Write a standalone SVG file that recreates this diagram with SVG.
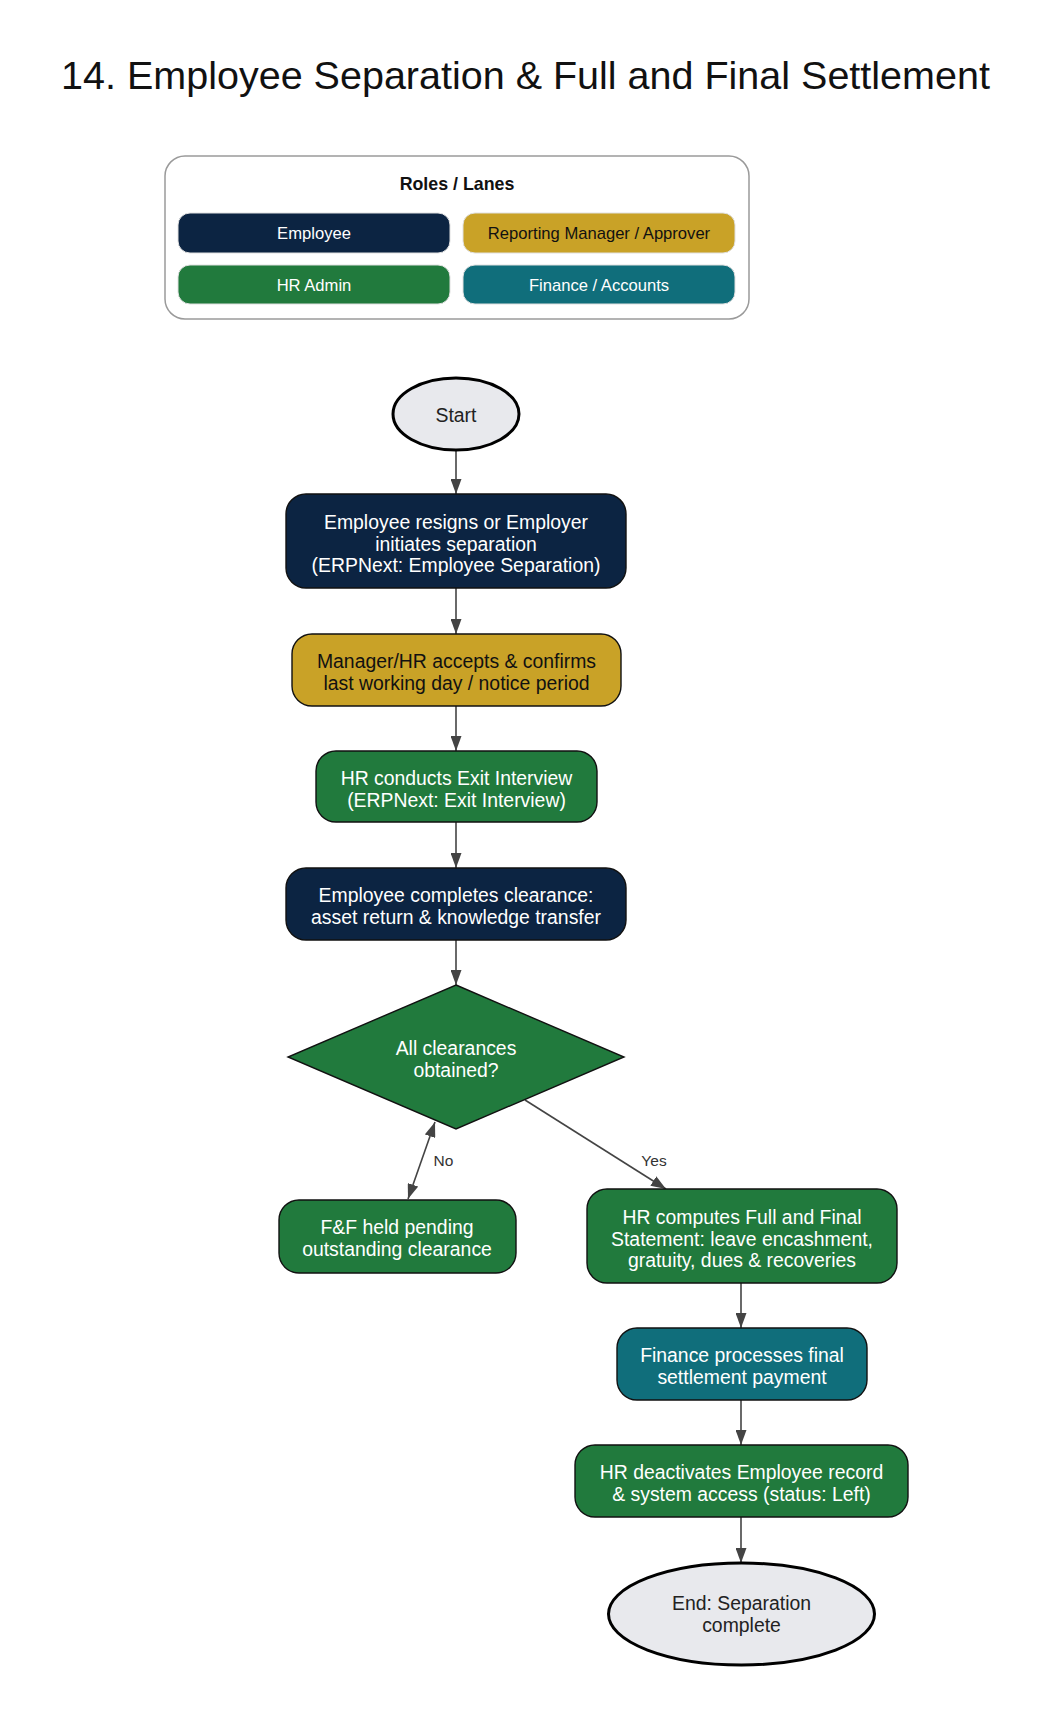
<svg xmlns="http://www.w3.org/2000/svg" width="1049" height="1710" viewBox="0 0 1049 1710">
<defs>
<style>
text{font-family:"Liberation Sans",Arial,sans-serif}
.t{font-size:19.4px;text-anchor:middle}
.w{fill:#ffffff}
.k{fill:#111111}
.box{stroke:#111111;stroke-width:1.4}
.emp{fill:#0c2442}
.mgr{fill:#c9a227}
.hr{fill:#217a3d}
.fin{fill:#106e7b}
.term{fill:#e8e9ed;stroke:#000000;stroke-width:3}
.leg{stroke:#e0e0e0;stroke-width:1}
.lt{font-size:16.6px;text-anchor:middle}
.e{stroke:#444444;stroke-width:1.6;fill:none;marker-end:url(#ah)}
.el{font-size:15.5px;fill:#333333;text-anchor:middle}
</style>
<marker id="ah" markerUnits="userSpaceOnUse" markerWidth="15" markerHeight="11" refX="15" refY="5.5" orient="auto-start-reverse">
<path d="M0,0 L15,5.5 L0,11 z" fill="#444444"/>
</marker>
</defs>
<rect width="1049" height="1710" fill="#ffffff"/>
<text x="525.5" y="89" style="font-size:39.5px;text-anchor:middle" fill="#111111">14. Employee Separation &amp; Full and Final Settlement</text>

<g id="legend">
<rect x="165" y="156" width="584" height="163" rx="20" fill="#ffffff" stroke="#9a9a9a" stroke-width="1.5"/>
<text x="457" y="190" style="font-size:17.8px;font-weight:bold;text-anchor:middle" fill="#111111">Roles / Lanes</text>
<rect class="emp leg" x="178" y="213" width="272" height="40" rx="12"/>
<text class="lt w" x="314" y="239">Employee</text>
<rect class="mgr leg" x="463" y="213" width="272" height="40" rx="12"/>
<text class="lt k" x="599" y="239">Reporting Manager / Approver</text>
<rect class="hr leg" x="178" y="265" width="272" height="39" rx="12"/>
<text class="lt w" x="314" y="291">HR Admin</text>
<rect class="fin leg" x="463" y="265" width="272" height="39" rx="12"/>
<text class="lt w" x="599" y="291">Finance / Accounts</text>
</g>

<g id="connectors">
<line class="e" x1="456" y1="451" x2="456" y2="494"/>
<line class="e" x1="456" y1="588" x2="456" y2="634"/>
<line class="e" x1="456" y1="706" x2="456" y2="751"/>
<line class="e" x1="456" y1="822" x2="456" y2="868"/>
<line class="e" x1="456" y1="940" x2="456" y2="985"/>
<line class="e" x1="408" y1="1199" x2="435" y2="1122" style="marker-start:url(#ah)"/>
<text class="el" x="443.5" y="1166">No</text>
<line class="e" x1="525" y1="1100" x2="666" y2="1189"/>
<text class="el" x="654" y="1166">Yes</text>
<line class="e" x1="741" y1="1283" x2="741" y2="1328"/>
<line class="e" x1="741" y1="1400" x2="741" y2="1445"/>
<line class="e" x1="741" y1="1517" x2="741" y2="1563"/>
</g>

<g id="start">
<ellipse class="term" cx="456" cy="414" rx="63" ry="36"/>
<text class="t" x="456" y="422" fill="#222222">Start</text>
</g>

<g id="separation">
<rect class="box emp" x="286" y="494" width="340" height="94" rx="20"/>
<text class="t w" x="456" y="529">Employee resigns or Employer</text>
<text class="t w" x="456" y="550.5">initiates separation</text>
<text class="t w" x="456" y="572">(ERPNext: Employee Separation)</text>
</g>

<g id="accept">
<rect class="box mgr" x="292" y="634" width="329" height="72" rx="20"/>
<text class="t k" x="456.5" y="668">Manager/HR accepts &amp; confirms</text>
<text class="t k" x="456.5" y="689.5">last working day / notice period</text>
</g>

<g id="exit-interview">
<rect class="box hr" x="316" y="751" width="281" height="71" rx="20"/>
<text class="t w" x="456.5" y="785">HR conducts Exit Interview</text>
<text class="t w" x="456.5" y="806.5">(ERPNext: Exit Interview)</text>
</g>

<g id="clearance">
<rect class="box emp" x="286" y="868" width="340" height="72" rx="20"/>
<text class="t w" x="456" y="902">Employee completes clearance:</text>
<text class="t w" x="456" y="923.5">asset return &amp; knowledge transfer</text>
</g>

<g id="decision">
<polygon class="box hr" points="456,985 624,1057 456,1129 288,1057"/>
<text class="t w" x="456" y="1055">All clearances</text>
<text class="t w" x="456" y="1076.5">obtained?</text>
</g>

<g id="held">
<rect class="box hr" x="279" y="1200" width="237" height="73" rx="20"/>
<text class="t w" x="397" y="1234">F&amp;F held pending</text>
<text class="t w" x="397" y="1255.5">outstanding clearance</text>
</g>

<g id="compute">
<rect class="box hr" x="587" y="1189" width="310" height="94" rx="20"/>
<text class="t w" x="742" y="1224">HR computes Full and Final</text>
<text class="t w" x="742" y="1245.5">Statement: leave encashment,</text>
<text class="t w" x="742" y="1267">gratuity, dues &amp; recoveries</text>
</g>

<g id="payment">
<rect class="box fin" x="617" y="1328" width="250" height="72" rx="20"/>
<text class="t w" x="742" y="1362">Finance processes final</text>
<text class="t w" x="742" y="1383.5">settlement payment</text>
</g>

<g id="deactivate">
<rect class="box hr" x="575" y="1445" width="333" height="72" rx="20"/>
<text class="t w" x="741.5" y="1479">HR deactivates Employee record</text>
<text class="t w" x="741.5" y="1500.5">&amp; system access (status: Left)</text>
</g>

<g id="end">
<ellipse class="term" cx="741.5" cy="1614" rx="133" ry="51"/>
<text class="t" x="741.5" y="1610" fill="#222222">End: Separation</text>
<text class="t" x="741.5" y="1631.5" fill="#222222">complete</text>
</g>
</svg>
